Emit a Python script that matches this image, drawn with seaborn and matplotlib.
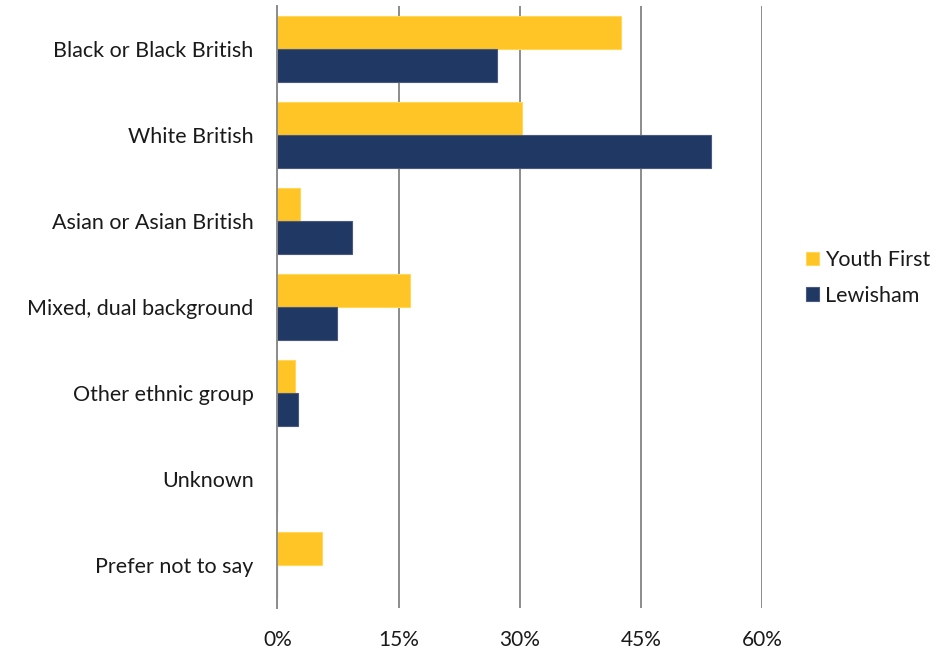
import matplotlib
matplotlib.use("Agg")
import matplotlib.pyplot as plt
import seaborn as sns
import pandas as pd
from matplotlib.ticker import FixedLocator, FuncFormatter

categories = ["Black or Black British", "White British", "Asian or Asian British",
              "Mixed, dual background", "Other ethnic group", "Unknown", "Prefer not to say"]
youth_first = [42.5, 30.3, 2.8, 16.4, 2.2, 0.0, 5.5]
lewisham = [27.2, 53.6, 9.2, 7.4, 2.5, 0.0, 0.0]
series_names = ["Youth First", "Lewisham"]
colors = ["#FFC425", "#203864"]
x_ticks = [0, 15, 30, 45, 60]

df = pd.DataFrame({
    "category": categories * 2,
    "value": youth_first + lewisham,
    "series": [series_names[0]] * len(categories) + [series_names[1]] * len(categories),
})

sns.set_style("white")
plt.rcParams["font.family"] = ["Lato", "DejaVu Sans"]

fig = plt.figure(figsize=(9.53, 6.51), dpi=100)
ax = fig.add_axes([0.291, 0.0666, 0.509, 0.9244])

sns.barplot(data=df, y="category", x="value", hue="series", order=categories,
            hue_order=series_names, palette=colors, orient="h", width=0.77,
            ax=ax, saturation=1, edgecolor="none")

for i, patch in enumerate(ax.patches):
    fc = patch.get_facecolor()
    if abs(fc[0] - 1.0) < 0.05:
        patch.set_edgecolor("#FFD85A")
    else:
        patch.set_edgecolor("#4A5A7E")
    patch.set_linewidth(0.8)

ax.set_xlim(0, 60)
ax.set_ylim(6.5, -0.5)
ax.set_xticks(x_ticks)
ax.xaxis.set_major_formatter(FuncFormatter(lambda v, p: f"{int(v)}%"))
ax.grid(axis="x", color="#8C8C8C", linewidth=1.4)
ax.set_axisbelow(True)

ax.set_xlabel("")
ax.set_ylabel("")
for s in ["top", "right", "bottom"]:
    ax.spines[s].set_visible(False)
ax.spines["left"].set_color("#8C8C8C")
ax.spines["left"].set_linewidth(1.4)

ax.tick_params(axis="x", length=0, pad=16, labelsize=15, labelcolor="#1a1a1a")
ax.tick_params(axis="y", which="major", length=0, pad=17, labelsize=15.5, labelcolor="#1a1a1a")
ax.yaxis.set_minor_locator(FixedLocator([i - 0.5 for i in range(len(categories) + 1)]))
ax.tick_params(axis="y", which="minor", length=6, width=1.4, color="#8C8C8C", direction="out")

leg = ax.legend(loc="center left", bbox_to_anchor=(1.05, 0.548), frameon=False,
                fontsize=15.5, handlelength=0.6, handleheight=0.6, handletextpad=0.3,
                labelspacing=0.72)
for t in leg.get_texts():
    t.set_color("#1a1a1a")

fig.savefig("out.png", dpi=100)
